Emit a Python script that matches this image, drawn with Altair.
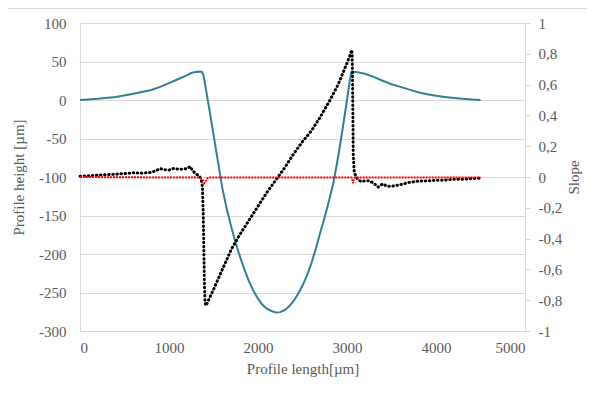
import altair as alt
import pandas as pd

# Profile height (left axis, µm)
prof_x = [0, 200, 400, 600, 800, 900, 1000, 1100, 1200, 1250, 1300, 1350, 1370, 1385,
          1400, 1450, 1500, 1550, 1600, 1650, 1700, 1750, 1800, 1850, 1900, 1950, 2000,
          2050, 2100, 2150, 2200, 2250, 2300, 2350, 2400, 2450, 2500, 2550, 2600, 2650,
          2700, 2750, 2800, 2850, 2900, 2950, 3000, 3030, 3045, 3055, 3100, 3200, 3300,
          3400, 3500, 3600, 3700, 3800, 3900, 4000, 4100, 4200, 4300, 4400, 4500]
prof_h = [0, 1.5, 4, 8, 13, 17, 22, 27, 32, 35, 36.5, 37, 36.5, 33,
          24, -10, -45, -80, -115, -142, -165, -186, -204, -221, -236, -248, -258,
          -266, -271, -274, -276, -275.5, -273, -268, -261, -252, -241, -228, -212, -193,
          -172, -152, -130, -106, -74, -38, 0, 24, 34, 37, 36.5, 34, 30,
          25, 20.5, 17, 13.5, 10, 7.5, 5.5, 4, 2.7, 1.6, 0.8, 0]

# Slope (right axis), black series
slope_x = [0, 100, 200, 300, 400, 500, 600, 700, 800, 850, 900, 950, 1000, 1050, 1100,
           1150, 1200, 1240, 1260, 1300, 1330, 1360, 1375, 1385, 1392, 1398, 1404, 1412,
           1420, 1500, 1600, 1700, 1800, 1900, 2000, 2100, 2200, 2300, 2400, 2500, 2600,
           2700, 2800, 2900, 3000, 3040, 3052, 3058, 3062, 3066, 3070, 3080, 3100, 3130,
           3160, 3200, 3250, 3300, 3350, 3400, 3450, 3500, 3550, 3600, 3700, 3800, 3900,
           4000, 4100, 4200, 4300, 4400, 4500]
slope_v = [0.005, 0.008, 0.012, 0.015, 0.018, 0.022, 0.027, 0.025, 0.03, 0.04, 0.055, 0.048,
           0.045, 0.055, 0.052, 0.05, 0.055, 0.068, 0.045, 0.02, 0.012, -0.01, -0.06, -0.25,
           -0.5, -0.7, -0.8, -0.835, -0.83, -0.73, -0.6, -0.47, -0.37, -0.28, -0.19, -0.1,
           -0.02, 0.06, 0.15, 0.23, 0.3, 0.39, 0.49, 0.6, 0.74, 0.8, 0.825, 0.8, 0.65, 0.4,
           0.15, 0.04, 0.0, -0.02, -0.03, -0.025, -0.025, -0.04, -0.065, -0.045, -0.06,
           -0.06, -0.055, -0.05, -0.035, -0.027, -0.025, -0.021, -0.02, -0.015, -0.014,
           -0.01, -0.008]

# Second slope series (red)
red_x = [0, 500, 1000, 1300, 1350, 1380, 1395, 1410, 1430, 1450, 2000, 2500, 3000, 3050,
         3060, 3068, 3075, 3090, 3500, 4000, 4500]
red_v = [0, -0.002, -0.003, -0.003, -0.006, -0.02, -0.04, -0.03, -0.008, -0.003, -0.003,
         -0.003, -0.003, -0.003, -0.02, -0.04, -0.012, -0.003, -0.003, -0.003, -0.003]

x_ticks = [0, 1000, 2000, 3000, 4000, 5000]
h_ticks = [-300, -250, -200, -150, -100, -50, 0, 50, 100]
s_ticks = [-1, -0.8, -0.6, -0.4, -0.2, 0, 0.2, 0.4, 0.6, 0.8, 1]

prof_df = pd.DataFrame({"x": prof_x, "h": prof_h})
black_df = pd.DataFrame({"x": slope_x, "s": slope_v})
red_df = pd.DataFrame({"x": red_x, "s": red_v})

FONT = "Liberation Serif"
GRAY = "#595959"
LINE = "#d9d9d9"
FS = 15

common = dict(labelFont=FONT, titleFont=FONT, labelColor=GRAY, titleColor=GRAY,
              labelFontSize=FS, titleFontSize=FS, titleFontWeight="normal",
              domainColor=LINE)

x_enc = alt.X("x:Q", scale=alt.Scale(domain=[0, 5000], nice=False),
              axis=alt.Axis(values=x_ticks, grid=False, ticks=False,
                            labelExpr="toString(datum.value)",
                            title="Profile length[µm]", labelPadding=9, titlePadding=6,
                            **common))

blue = alt.Chart(prof_df).mark_line(color="#2f7f98", strokeWidth=2).encode(
    x=x_enc,
    y=alt.Y("h:Q", scale=alt.Scale(domain=[-300, 100], nice=False),
            axis=alt.Axis(values=h_ticks, grid=True, gridColor=LINE, ticks=False,
                          labelExpr="toString(datum.value)",
                          labelPadding=14, title="Profile height [µm]", titlePadding=12,
                          **common)),
    order="x:Q",
)

s_axis = alt.Axis(values=s_ticks, grid=False, orient="right", ticks=True, tickSize=5,
                  tickColor=LINE, labelPadding=8,
                  labelExpr="replace(toString(datum.value), '.', ',')",
                  title="Slope", titleAngle=270, titlePadding=20, **common)
s_scale = alt.Scale(domain=[-1, 1], nice=False)

black = alt.Chart(black_df).mark_line(color="#000000", strokeWidth=3, strokeCap="round",
                                      strokeDash=[0.5, 3.6]).encode(
    x="x:Q", y=alt.Y("s:Q", scale=s_scale, axis=s_axis), order="x:Q")
red = alt.Chart(red_df).mark_line(color="#ff0000", strokeWidth=2,
                                  strokeDash=[2, 1]).encode(
    x="x:Q", y=alt.Y("s:Q", scale=s_scale, axis=s_axis), order="x:Q")

slopes = alt.layer(black, red)

border = alt.Chart(pd.DataFrame({"a": [0]})).mark_rule(color=LINE, strokeWidth=1).encode(
    x=alt.value(-72), x2=alt.value(515), y=alt.value(-14.5))

chart = alt.layer(blue, slopes, border).resolve_scale(y="independent").properties(
    width=445, height=308,
    autosize=alt.AutoSizeParams(type="none"),
    padding={"left": 72, "top": 15, "right": 62, "bottom": 63},
).configure(font=FONT).configure_view(stroke=None)

chart.save("out.html", embed_options={"renderer": "svg", "actions": False})
